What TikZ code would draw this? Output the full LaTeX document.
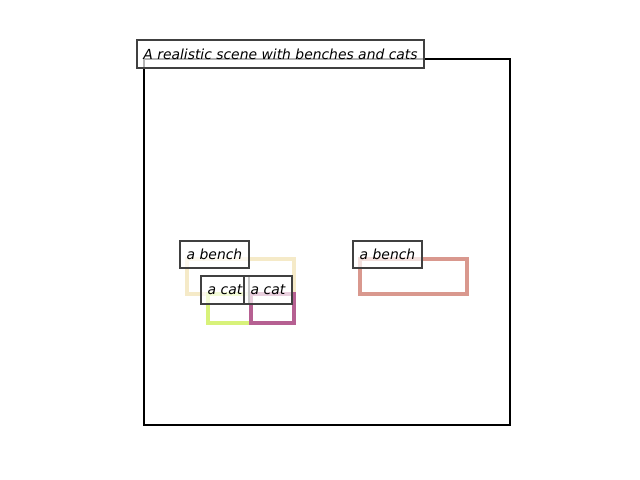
\documentclass[tikz,border=0pt]{standalone}
\usepackage{fontspec}
\setmainfont{DejaVu Sans}
\begin{document}
\begin{tikzpicture}[x=0.72pt,y=-0.72pt,
  lbl/.style={draw=black!75, line width=0.75pt, fill=white, fill opacity=0.7, text opacity=1,
    inner sep=0pt, font=\fontsize{10}{12}\selectfont\itshape, anchor=center},
  obj/.style={line width=2.25pt}]
\definecolor{benchA}{RGB}{245,234,200}
\definecolor{catA}{RGB}{216,242,122}
\definecolor{catB}{RGB}{182,96,146}
\definecolor{benchB}{RGB}{217,152,142}
\useasboundingbox (0,0) rectangle (640,480);
\fill[white] (0,0) rectangle (640,480);
\draw[line width=1.7pt] (144,59) rectangle (510,425);
\draw[obj, benchA] (187,259) rectangle (294,294);
\draw[obj, catA] (208,294) rectangle (251,323);
\draw[obj, catB] (251,294) rectangle (294,323);
\draw[obj, benchB] (360,259) rectangle (467,294);
\node[lbl, minimum width=287*0.72pt, minimum height=28*0.72pt] (title) at (280.5,54) {A realistic scene with benches and cats};
\node[lbl, minimum width=69*0.72pt, minimum height=27*0.72pt] (b1) at (214.5,254.5) {a bench};
\node[lbl, minimum width=48*0.72pt, minimum height=28*0.72pt] (c1) at (225,290) {a cat};
\node[lbl, minimum width=48*0.72pt, minimum height=28*0.72pt] (c2) at (268,290) {a cat};
\node[lbl, minimum width=69*0.72pt, minimum height=27*0.72pt] (b2) at (387.5,254.5) {a bench};
\end{tikzpicture}
\end{document}
